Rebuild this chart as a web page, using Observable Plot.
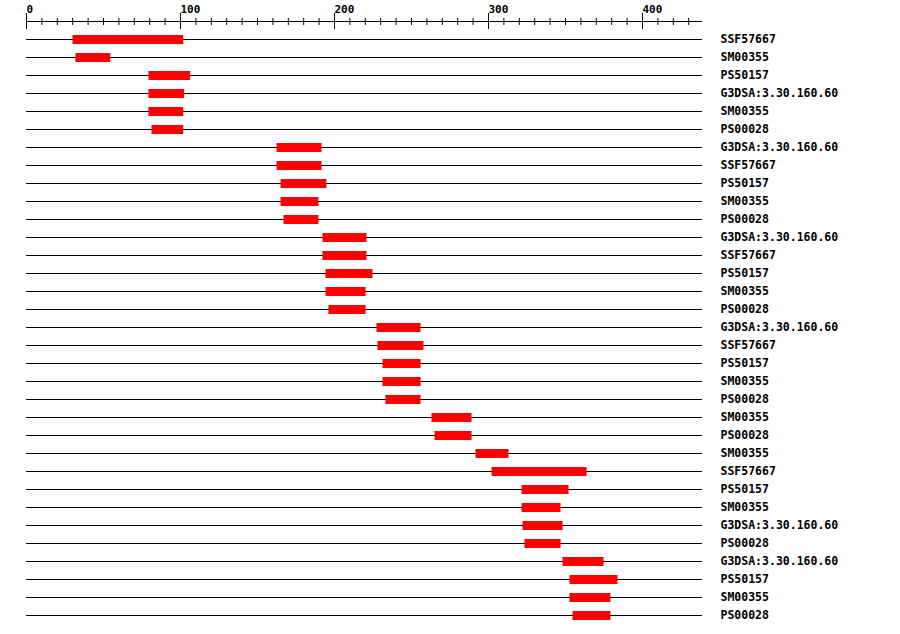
<!DOCTYPE html>
<html><head><meta charset="utf-8">
<script src="https://cdn.jsdelivr.net/npm/d3@7"></script>
<script src="https://cdn.jsdelivr.net/npm/@observablehq/plot@0.6"></script>
<style>html,body{margin:0;padding:0;background:#fff;}</style>
</head><body><div id="chart"></div>
<script>
const labels = ["SSF57667","SM00355","PS50157","G3DSA:3.30.160.60","SM00355","PS00028",
  "G3DSA:3.30.160.60","SSF57667","PS50157","SM00355","PS00028",
  "G3DSA:3.30.160.60","SSF57667","PS50157","SM00355","PS00028",
  "G3DSA:3.30.160.60","SSF57667","PS50157","SM00355","PS00028",
  "SM00355","PS00028","SM00355","SSF57667","PS50157","SM00355","G3DSA:3.30.160.60","PS00028",
  "G3DSA:3.30.160.60","PS50157","SM00355","PS00028"];
const starts = [30.2,32.1,79.5,79.5,79.5,81.5,
  162.7,162.7,165.3,165.3,167.2,
  192.5,192.5,194.5,194.5,196.4,
  227.6,228.2,231.5,231.5,233.4,
  263.3,265.3,291.9,302.3,321.8,321.8,322.4,323.7,
  348.4,352.9,352.9,354.9];
const ends = [102.1,54.7,106.6,102.7,102.1,102.1,
  191.9,191.9,195.1,189.9,189.9,
  221.1,221.1,225.0,220.5,220.5,
  256.2,258.1,256.2,256.2,256.2,
  289.3,289.3,313.3,364.0,352.3,347.1,348.4,347.1,
  375.0,384.1,379.5,379.5];
const xMax = 438.96;
const majorTicks = [0,100,200,300,400];
const minorTicks = d3.range(0, 440, 10).filter(v => v % 100 !== 0);

const rows = labels.map((label, i) => ({i, label, start: starts[i], end: ends[i]}));
const AXIS_ROW = -1;
const font = "'DejaVu Sans Mono', monospace";

const chart = Plot.plot({
  width: 900,
  height: 634,
  marginLeft: 26,
  marginRight: 198,
  marginTop: 39,
  marginBottom: 19,
  style: {background: "#fff", fontFamily: font},
  x: {domain: [0, xMax], axis: null},
  y: {type: "linear", domain: [0, rows.length - 1], reverse: true, axis: null},
  marks: [
    // top axis
    Plot.ruleY([AXIS_ROW], {x1: 0, x2: xMax, stroke: "#000"}),
    Plot.ruleX(majorTicks, {x: d => d, y1: AXIS_ROW - 0.444, y2: AXIS_ROW + 0.444, stroke: "#000"}),
    Plot.ruleX(minorTicks, {x: d => d, y1: AXIS_ROW - 0.167, y2: AXIS_ROW + 0.222, stroke: "#000"}),
    Plot.text(majorTicks, {x: d => d, y: AXIS_ROW, dy: -9, text: d => String(d), textAnchor: "start", lineAnchor: "bottom", fontSize: 11, fontWeight: "bold", fill: "#000"}),
    // row lines
    Plot.ruleY(rows, {y: "i", x1: 0, x2: xMax, stroke: "#000"}),
    // domain bars
    Plot.ruleY(rows, {y: "i", x1: "start", x2: "end", stroke: "#ff0000", strokeWidth: 9, strokeLinecap: "butt"}),
    // labels
    Plot.text(rows, {x: () => xMax, y: "i", dx: 18, text: "label", textAnchor: "start", lineAnchor: "middle", fontSize: 11.5, fontWeight: "bold", fill: "#000"})
  ]
});
document.getElementById("chart").appendChild(chart);
</script>
</body></html>
